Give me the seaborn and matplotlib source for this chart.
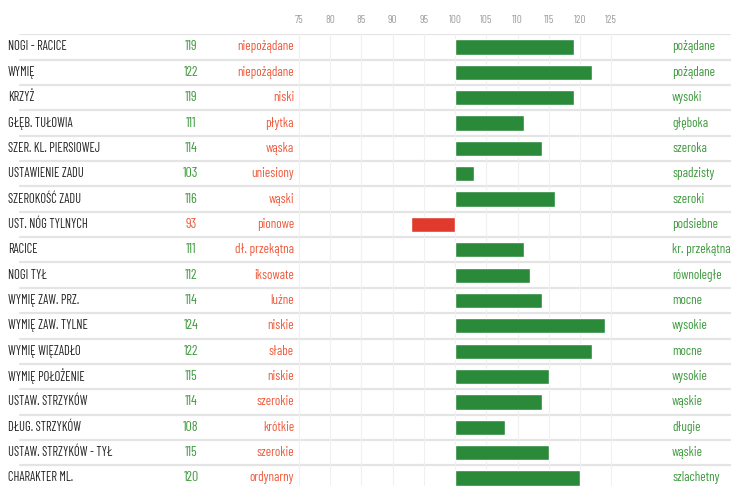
import matplotlib
matplotlib.use("Agg")
import matplotlib.pyplot as plt
import matplotlib.transforms as mtransforms
from matplotlib.ticker import FuncFormatter
import seaborn as sns
import pandas as pd

traits = ["NOGI - RACICE", "WYMIĘ", "KRZYŻ", "GŁĘB. TUŁOWIA", "SZER. KL. PIERSIOWEJ",
          "USTAWIENIE ZADU", "SZEROKOŚĆ ZADU", "UST. NÓG TYLNYCH", "RACICE", "NOGI TYŁ",
          "WYMIĘ ZAW. PRZ.", "WYMIĘ ZAW. TYLNE", "WYMIĘ WIĘZADŁO", "WYMIĘ POŁOŻENIE",
          "USTAW. STRZYKÓW", "DŁUG. STRZYKÓW", "USTAW. STRZYKÓW - TYŁ", "CHARAKTER ML."]
values = [119, 122, 119, 111, 114, 103, 116, 93, 111, 112, 114, 124, 122, 115, 114, 108, 115, 120]
low_desc = ["niepożądane", "niepożądane", "niski", "płytka", "wąska", "uniesiony", "wąski",
            "pionowe", "dł. przekątna", "iksowate", "luźne", "niskie", "słabe", "niskie",
            "szerokie", "krótkie", "szerokie", "ordynarny"]
high_desc = ["pożądane", "pożądane", "wysoki", "głęboka", "szeroka", "spadzisty", "szeroki",
             "podsiebne", "kr. przekątna", "równoległe", "mocne", "wysokie", "mocne", "wysokie",
             "wąskie", "długie", "wąskie", "szlachetny"]
ticks = [75, 80, 85, 90, 95, 100, 105, 110, 115, 120, 125]
base = 100

df = pd.DataFrame({"trait": traits, "value": values})
df["dev"] = df["value"] - base
df["side"] = ["plus" if v >= base else "minus" for v in values]

GREEN = "#2a8a3a"
RED = "#e03a2c"
VAL_GREEN = "#3f9a3f"
DESC_RED = "#ee5a3c"

sns.set_style("white")
plt.rcParams["font.family"] = ["Barlow Condensed", "DejaVu Sans"]

fig = plt.figure(figsize=(7.31, 4.86), dpi=100)
ax = fig.add_axes([0, 0, 1, 451.7 / 486])

sns.barplot(data=df, x="dev", y="trait", hue="side", palette={"plus": GREEN, "minus": RED},
            orient="h", dodge=False, legend=False, width=0.6, ax=ax, saturation=1)

# 100 sits at pixel 455, 6.24 px per unit
ax.set_xlim(27.1 - base, 144.2 - base)
ax.set_ylim(len(traits) - 1 + 0.316, -0.5)
ax.set_xticks([t - base for t in ticks])
ax.xaxis.set_major_formatter(FuncFormatter(lambda v, p: f"{v + base:.0f}"))
ax.xaxis.tick_top()
ax.tick_params(axis="x", length=0, labelsize=8, labelcolor="#a0a0a0", pad=7)
ax.set_yticks([])
ax.set_xlabel("")
ax.set_ylabel("")
for s in ax.spines.values():
    s.set_visible(False)
ax.grid(axis="x", color="#f0f0f0", linewidth=0.8)
ax.set_axisbelow(True)

for i in range(len(traits)):
    ax.axhline(i - 0.5, xmin=20 / 731, xmax=1, color="#e4e4e4", linewidth=1.6, zorder=0)

tr = mtransforms.blended_transform_factory(fig.transFigure, ax.transData)
for i, (t, v, lo, hi) in enumerate(zip(traits, values, low_desc, high_desc)):
    ax.text(8 / 731, i, t, transform=tr, ha="left", va="center", fontsize=9, color="#222222")
    ax.text(191 / 731, i, str(v), transform=tr, ha="center", va="center", fontsize=10,
            color=VAL_GREEN if v >= base else DESC_RED)
    ax.text(294 / 731, i, lo, transform=tr, ha="right", va="center", fontsize=9.5, color=DESC_RED)
    ax.text(672 / 731, i, hi, transform=tr, ha="left", va="center", fontsize=9.5, color=VAL_GREEN)

fig.savefig("out.png", dpi=100)
